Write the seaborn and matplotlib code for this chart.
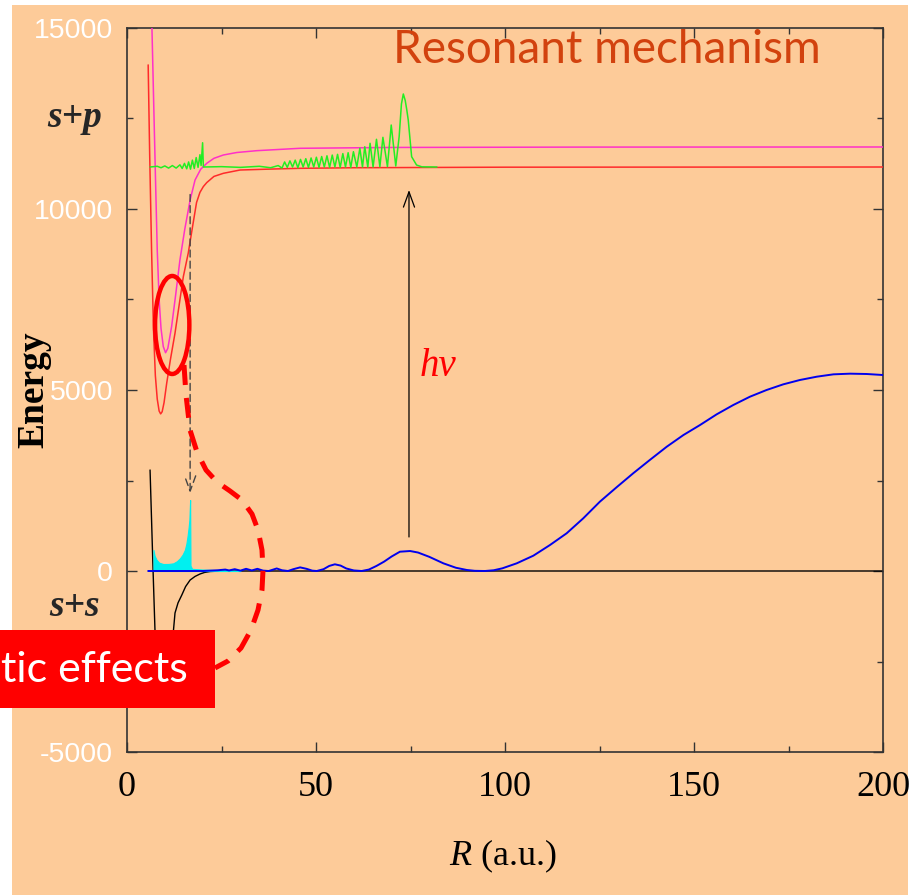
import matplotlib
matplotlib.use('Agg')
import matplotlib.pyplot as plt
import seaborn as sns
from matplotlib.patches import Ellipse, Rectangle
from matplotlib.ticker import MultipleLocator

# ---------------- data ----------------
# lower s+p potential (red)
red_R = [5.6, 6.0, 6.5, 7.0, 7.5, 8.0, 8.5, 8.9, 9.3, 9.8, 10.5, 11.5, 12.7, 13.8, 14.9,
         16.2, 17.4, 18.4, 19.3, 20.2, 21.1, 23.0, 25.5, 29.9, 38.7, 45.8, 60, 100, 200]
red_E = [13980, 11500, 8870, 6700, 5400, 4750, 4420, 4340, 4400, 4650, 5185, 5850, 6570, 7350, 8130,
         8780, 9550, 10180, 10460, 10620, 10730, 10900, 10986, 11077, 11105, 11124, 11140, 11155, 11160]

# upper s+p potential (magenta)
mag_R = [6.0, 6.6, 7.0, 7.5, 8.0, 8.5, 9.0, 9.6, 10.2, 10.8, 11.8, 12.9, 14.0, 15.3, 16.7,
         18.0, 19.5, 21.1, 23.0, 25.5, 29.0, 34.3, 45.8, 70, 120, 200]
mag_E = [17600, 15000, 13200, 11000, 8870, 7500, 6700, 6200, 6030, 6150, 6750, 7650, 8590, 9450, 10250,
         10800, 11100, 11262, 11400, 11492, 11560, 11611, 11677, 11700, 11710, 11713]

# s+s potential (black)
blk_R = [6.1, 6.5, 6.9, 7.4, 8.0, 8.7, 9.5, 10.3, 11.2, 12.3, 12.7, 13.5, 14.5, 15.5, 16.7,
         18.0, 19.3, 20.5, 22.0, 25.0, 30.0, 200]
blk_E = [2790, 1400, 0, -1630, -2800, -3300, -3400, -3200, -2500, -1630, -1160, -880, -663, -430, -249,
         -150, -83, -40, -14, 0, 0, 0]

# bound wavefunction density (cyan fill)
cyan_R = [7.0, 7.0, 7.3, 7.85, 8.5, 9.6, 11.0, 12.25, 13.2, 14.0, 14.7, 15.3, 15.7, 16.0, 16.3,
          16.5, 16.7, 16.8, 17.2, 20.0, 25.0, 30.0]
cyan_E = [0, 580, 420, 304, 230, 193, 195, 212, 270, 350, 450, 580, 750, 950, 1200,
          1410, 1960, 150, 60, 40, 20, 0]

# continuum wavefunction (blue)
blue_R = [5.6, 20, 24, 26, 27, 28.5, 30, 31.5, 33, 34.5, 36, 37.5, 39.6, 41, 42.6, 44, 45.8, 47.5, 49,
          50.2, 52, 53.5, 55, 56.5, 58, 60, 62.1, 64, 66, 68, 70, 72.2, 74.9, 77, 80, 83.7, 87, 89.9,
          92, 94.7, 97, 99.3, 103.1, 107.5, 111.9, 116.3, 120.7, 125.1, 129.5, 133.9, 138.3, 142.8,
          147.2, 151.6, 156.0, 160.4, 164.8, 169.2, 173.6, 178.0, 182.5, 186.9, 191.3, 195.7, 200]
blue_E = [0, 0, 20, 40, 15, 50, 10, 60, 15, 60, 10, 0, 70, 20, 0, 50, 100, 60, 10,
          0, 50, 140, 185, 150, 70, 15, 0, 40, 140, 258, 400, 533, 552, 510, 390, 212, 90, 28,
          5, 0, 20, 74, 212, 423, 718, 1041, 1455, 1915, 2311, 2698, 3066, 3434,
          3756, 4033, 4328, 4586, 4815, 5000, 5156, 5276, 5368, 5433, 5451, 5442, 5414]

# resonance wavefunction (green)
grn_R = [6.1, 8.0, 9.0, 10.0, 11.0, 12.0, 13.0, 14.0, 14.6, 15.2, 15.8, 16.3, 16.8, 17.3, 17.8,
         18.3, 18.8, 19.3, 19.6, 20.0, 20.2, 25.0, 30.0, 35.0, 38.0, 40.0, 41.0,
         41.7, 42.4, 43.1, 43.8, 44.5, 45.2, 45.9, 46.6, 47.3, 48.0, 48.7, 49.4, 50.1, 50.8,
         51.5, 52.2, 52.9, 53.6, 54.3, 55.0, 55.7, 56.4, 57.1, 57.8, 58.5, 59.2, 59.9, 60.8,
         61.6, 62.3, 62.9, 63.7, 64.3, 65.1, 66.0, 66.9, 67.7, 68.9, 69.9, 71.1, 72.0, 72.6,
         73.1, 73.6, 74.0, 74.4, 75.3, 76.6, 78.0, 82.0]
grn_E = [11160, 11180, 11140, 11190, 11130, 11200, 11130, 11220, 11120, 11260, 11110, 11300, 11100, 11350, 11120,
         11420, 11150, 11500, 11200, 11830, 11160, 11170, 11150, 11180, 11140, 11200, 11130,
         11300, 11150, 11330, 11160, 11350, 11140, 11370, 11160, 11390, 11150, 11410, 11160, 11430, 11150,
         11450, 11160, 11470, 11150, 11490, 11160, 11510, 11150, 11530, 11160, 11555, 11150, 11583, 11160,
         11677, 11160, 11720, 11160, 11815, 11160, 11925, 11165, 11980, 11170, 12320, 11188, 12000, 12900,
         13177, 13000, 12750, 12460, 11445, 11215, 11165, 11160]

# annotation geometry
hv_arrow_R, hv_arrow_E = [74.6, 74.6], [940, 10525]
dash_arrow_R, dash_arrow_E = [16.7, 16.7], [10400, 2150]
ellipse_center, ellipse_size = (11.96, 6796), (9.07, 2707)
loop_R = [15.08, 15.61, 16.67, 18.52, 20.90, 23.81, 27.25, 30.42, 33.07, 34.66, 35.71, 35.98,
          35.71, 34.66, 32.80, 30.16, 26.72, 23.28]
loop_E = [5690, 4861, 3894, 3286, 2790, 2458, 2210, 1961, 1574, 1132, 580, 28,
          -525, -1077, -1630, -2127, -2486, -2679]

xticks = [0, 50, 100, 150, 200]
xtick_labels = ['0', '50', '100', '150', '200']
yticks = [-5000, 0, 5000, 10000, 15000]
ytick_labels = ['-5000', '0', '5000', '10000', '15000']

# ---------------- styling ----------------
sns.set_theme(style='ticks')
plt.rcParams['font.family'] = ['DejaVu Sans']
plt.rcParams['mathtext.fontset'] = 'custom'
plt.rcParams['mathtext.it'] = 'Liberation Serif:italic'
plt.rcParams['mathtext.rm'] = 'Liberation Serif'
plt.rcParams['mathtext.bf'] = 'Liberation Serif:bold'

PEACH = '#FDCB99'
W, H = 910, 896
fig = plt.figure(figsize=(W / 100, H / 100), dpi=100, facecolor='white')
fig.add_artist(Rectangle((12 / W, 1 - 895 / H), 896 / W, 890 / H, transform=fig.transFigure,
                         facecolor=PEACH, edgecolor='none', zorder=-10))
ax = fig.add_axes([127 / W, 1 - 752 / H, 756 / W, 724 / H])
ax.set_facecolor('none')

# curves
sns.lineplot(x=blk_R, y=blk_E, ax=ax, sort=False, estimator=None, color='black', linewidth=1.0, legend=False, zorder=2)
ax.fill_between(cyan_R, cyan_E, 0, color='#00F0F0', linewidth=0.8, edgecolor='#00F0F0', zorder=3)
sns.lineplot(x=blue_R, y=blue_E, ax=ax, sort=False, estimator=None, color='#0000EE', linewidth=1.4, legend=False, zorder=4)
sns.lineplot(x=red_R, y=red_E, ax=ax, sort=False, estimator=None, color='#FF2A2A', linewidth=1.1, legend=False, zorder=4)
sns.lineplot(x=mag_R, y=mag_E, ax=ax, sort=False, estimator=None, color='#FF30C8', linewidth=1.1, legend=False, zorder=4)
sns.lineplot(x=grn_R, y=grn_E, ax=ax, sort=False, estimator=None, color='#22EE22', linewidth=1.1, legend=False, zorder=5)

# arrows
ax.annotate('', xy=(hv_arrow_R[1], hv_arrow_E[1]), xytext=(hv_arrow_R[0], hv_arrow_E[0]),
            arrowprops=dict(arrowstyle='->,head_length=1.1,head_width=0.4', color='black', lw=0.9,
                            shrinkA=0, shrinkB=0, mutation_scale=10), zorder=6)
ax.annotate('', xy=(dash_arrow_R[1], dash_arrow_E[1]), xytext=(dash_arrow_R[0], dash_arrow_E[0]),
            arrowprops=dict(arrowstyle='->,head_length=1.1,head_width=0.4', color='#444444', lw=1.0,
                            linestyle=(0, (5, 3)), shrinkA=0, shrinkB=0, mutation_scale=10), zorder=6)

# red annotations
ax.add_patch(Ellipse(ellipse_center, ellipse_size[0], ellipse_size[1], fill=False, edgecolor='#FF0000',
                     linewidth=3.2, zorder=7, clip_on=False))
ax.plot(loop_R, loop_E, color='#FF0000', linewidth=3.6, dashes=(4, 2.6), solid_capstyle='butt',
        dash_capstyle='butt', zorder=7, clip_on=False)

# texts
ax.text(127, 14400, 'Resonant mechanism', color='#D2420E', fontsize=33, family='Lato',
        ha='center', va='center')
ax.text(82.3, 5662, 'h\u03bd', color='#FF0000', fontsize=28, family='Liberation Serif',
        style='italic', ha='center', va='center')
ax.text(-0.07, 0.876, 's+p', transform=ax.transAxes, fontsize=27, family='Liberation Serif',
        style='italic', weight='bold', ha='center', va='center', clip_on=False)
ax.text(-0.07, 0.2003, 's+s', transform=ax.transAxes, fontsize=27, family='Liberation Serif',
        style='italic', weight='bold', ha='center', va='center', clip_on=False)

# red label box
fig.add_artist(Rectangle((0, 1 - 708 / H), 215 / W, 78 / H, transform=fig.transFigure,
                         facecolor='#FF0000', edgecolor='none', zorder=10))
fig.text(188 / W, 1 - 670 / H, 'tic effects', color='white', fontsize=31, family='Lato',
         ha='right', va='center', zorder=11)

# axes
ax.set_xlim(0, 200)
ax.set_ylim(-5000, 15000)
ax.set_xticks(xticks, labels=xtick_labels, fontfamily='Liberation Serif', fontsize=26, color='black')
ax.set_yticks(yticks, labels=ytick_labels, fontfamily='Liberation Sans', fontsize=20.5, color='white')
ax.xaxis.set_minor_locator(MultipleLocator(25))
ax.yaxis.set_minor_locator(MultipleLocator(2500))
ax.tick_params(which='both', direction='in', top=True, right=True, color='#333333', width=1.0)
ax.tick_params(which='major', length=7)
ax.tick_params(which='minor', length=4)
ax.tick_params(axis='x', pad=14)
ax.tick_params(axis='y', pad=10)
for s in ax.spines.values():
    s.set_color('#333333')
    s.set_linewidth(1.2)

ax.set_xlabel(r'$\mathit{R}$ (a.u.)', fontsize=26, family='Liberation Serif', color='black')
ax.xaxis.set_label_coords(0.497, -0.144)
ax.xaxis.label.set_va('center')
ax.set_ylabel('Energy', fontsize=27, family='Liberation Serif', weight='bold', color='black')
ax.yaxis.set_label_coords(-0.123, 0.5)
ax.yaxis.label.set_va('center')

fig.savefig('out.png', dpi=100, facecolor='white')
